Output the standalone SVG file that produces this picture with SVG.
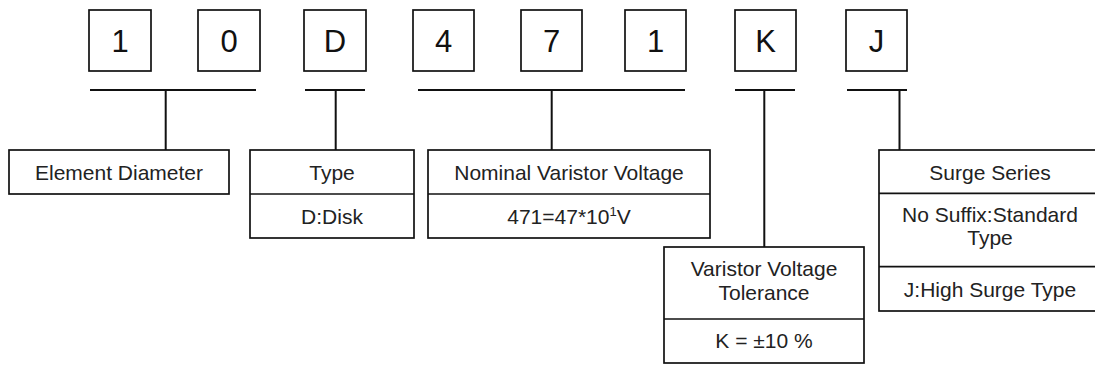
<svg xmlns="http://www.w3.org/2000/svg" width="1095" height="365" viewBox="0 0 1095 365">
<style>
.box{fill:#fff;stroke:#111;stroke-width:1.7}
.ln{stroke:#111;stroke-width:2;fill:none}
.dg{font-family:"Liberation Sans",Arial,sans-serif;font-size:31px;fill:#111;text-anchor:middle}
.t{font-family:"Liberation Sans",Arial,sans-serif;font-size:21px;fill:#222;text-anchor:middle}
</style>
<rect width="1095" height="365" fill="#fff"/>
<g id="digits">
<g id="d1"><rect class="box" x="89" y="10" width="62" height="61"/><text class="dg" x="120" y="52">1</text></g>
<g id="d2"><rect class="box" x="198" y="10" width="62" height="61"/><text class="dg" x="229" y="52">0</text></g>
<g id="d3"><rect class="box" x="304" y="10" width="62" height="61"/><text class="dg" x="335" y="52">D</text></g>
<g id="d4"><rect class="box" x="413" y="10" width="61" height="61"/><text class="dg" x="443.5" y="52">4</text></g>
<g id="d5"><rect class="box" x="521" y="10" width="61" height="61"/><text class="dg" x="551.5" y="52">7</text></g>
<g id="d6"><rect class="box" x="625" y="10" width="61" height="61"/><text class="dg" x="655.5" y="52">1</text></g>
<g id="d7"><rect class="box" x="735" y="10" width="61" height="61"/><text class="dg" x="765.5" y="52">K</text></g>
<g id="d8"><rect class="box" x="846" y="10" width="61" height="61"/><text class="dg" x="876.5" y="52">J</text></g>
</g>
<g id="connectors">
<path class="ln" d="M90 90H256M165.7 90V150"/>
<path class="ln" d="M305 90H365M335.7 90V150"/>
<path class="ln" d="M418 90H685M551.7 90V150"/>
<path class="ln" d="M735 90H795M764.3 90V247"/>
<path class="ln" d="M847 90H907M899.5 90V150"/>
</g>
<g id="element-diameter">
<rect class="box" x="9" y="150" width="220" height="44"/>
<text class="t" x="119" y="180">Element Diameter</text>
</g>
<g id="type">
<rect class="box" x="250" y="150" width="164" height="88"/>
<line class="box" x1="250" y1="194" x2="414" y2="194"/>
<text class="t" x="332" y="180">Type</text>
<text class="t" x="332" y="223.5">D:Disk</text>
</g>
<g id="nominal-voltage">
<rect class="box" x="428" y="150" width="282" height="88"/>
<line class="box" x1="428" y1="194" x2="710" y2="194"/>
<text class="t" x="569" y="180">Nominal Varistor Voltage</text>
<text class="t" x="569" y="223.5">471=47*10<tspan font-size="13" dy="-8">1</tspan><tspan dy="8">V</tspan></text>
</g>
<g id="tolerance">
<rect class="box" x="664" y="247" width="200" height="116"/>
<line class="box" x1="664" y1="319" x2="864" y2="319"/>
<text class="t" x="764" y="276">Varistor Voltage</text>
<text class="t" x="764" y="300">Tolerance</text>
<text class="t" x="764" y="348.4">K = ±10 %</text>
</g>
<g id="surge-series">
<rect class="box" x="879" y="150" width="222" height="161"/>
<line class="box" x1="879" y1="193.3" x2="1101" y2="193.3"/>
<line class="box" x1="879" y1="266.7" x2="1101" y2="266.7"/>
<text class="t" x="990" y="180">Surge Series</text>
<text class="t" x="990" y="221.7">No Suffix:Standard</text>
<text class="t" x="990" y="245">Type</text>
<text class="t" x="990" y="296.5">J:High Surge Type</text>
</g>
</svg>
